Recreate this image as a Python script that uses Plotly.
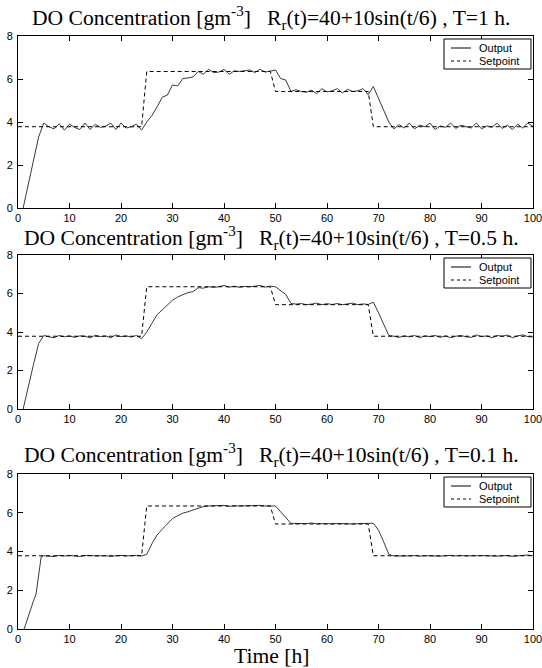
import plotly.graph_objects as go

# ---------------- data ----------------
setpoint_t = [0, 24, 25, 49, 50, 68, 69, 100]
setpoint_y = [3.78, 3.78, 6.35, 6.35, 5.42, 5.42, 3.78, 3.78]

# T = 1 h
out1_t = list(range(1, 101))
out1_y = [0.0, 1.1, 2.2, 3.3, 3.95, 3.78, 3.68, 3.92, 3.62, 3.9,
          3.75, 3.65, 3.95, 3.65, 3.9, 3.75, 3.8, 3.95, 3.65, 3.95,
          3.72, 3.78, 3.9, 3.62, 4.0, 4.3, 4.7, 5.15, 5.25, 5.72,
          5.68, 6.02, 6.05, 6.1, 6.35, 6.22, 6.45, 6.3, 6.32, 6.45,
          6.22, 6.38, 6.35, 6.38, 6.42, 6.3, 6.45, 6.32, 6.38, 6.42,
          6.02, 5.95, 5.42, 5.5, 5.42, 5.38, 5.48, 5.32, 5.55, 5.4,
          5.45, 5.55, 5.35, 5.52, 5.42, 5.45, 5.55, 5.28, 5.65, 5.1,
          4.55, 4.0, 3.68, 3.88, 3.72, 3.95, 3.68, 3.85, 3.78, 3.95,
          3.65, 3.82, 3.75, 3.95, 3.7, 3.85, 3.78, 3.72, 3.95, 3.68,
          3.82, 3.75, 3.95, 3.7, 3.85, 3.65, 3.9, 3.72, 3.95, 3.8]

# T = 0.5 h
out2_t = list(range(1, 101))
out2_y = [0.0, 1.2, 2.3, 3.4, 3.82, 3.75, 3.7, 3.82, 3.75, 3.8,
          3.72, 3.8, 3.78, 3.7, 3.83, 3.76, 3.8, 3.7, 3.85, 3.76,
          3.8, 3.74, 3.82, 3.65, 4.0, 4.45, 4.9, 5.15, 5.4, 5.65,
          5.82, 5.95, 6.05, 6.1, 6.3, 6.28, 6.35, 6.32, 6.35, 6.42,
          6.33, 6.38, 6.32, 6.37, 6.35, 6.38, 6.42, 6.33, 6.38, 6.35,
          6.15, 5.95, 5.48, 5.45, 5.48, 5.42, 5.45, 5.5, 5.42, 5.47,
          5.43, 5.48, 5.42, 5.45, 5.5, 5.42, 5.46, 5.43, 5.55, 5.0,
          4.4, 3.82, 3.78, 3.72, 3.8, 3.75, 3.82, 3.7, 3.8, 3.76,
          3.82, 3.72, 3.8, 3.7, 3.78, 3.82, 3.75, 3.72, 3.85, 3.76,
          3.8, 3.7, 3.82, 3.78, 3.84, 3.7, 3.8, 3.85, 3.76, 3.74]

# T = 0.1 h
out3_t = [1.2, 2, 3, 3.5, 4, 4.5] + list(range(5, 101))
out3_y = [0.0, 0.7, 1.45, 1.8, 2.9, 3.72,
          3.78, 3.76, 3.74, 3.8, 3.77, 3.8, 3.78, 3.74, 3.79, 3.8,
          3.77, 3.79, 3.78, 3.75, 3.78, 3.8, 3.77, 3.78, 3.8, 3.77,
          3.85, 4.4, 4.85, 5.15, 5.45, 5.7, 5.85, 5.98, 6.05, 6.15,
          6.25, 6.32, 6.35, 6.35, 6.36, 6.38, 6.33, 6.36, 6.35, 6.36,
          6.34, 6.35, 6.38, 6.35, 6.36, 6.35, 6.05, 5.75, 5.45, 5.45,
          5.43, 5.44, 5.47, 5.43, 5.44, 5.42, 5.43, 5.45, 5.43, 5.44,
          5.42, 5.44, 5.43, 5.45, 5.46, 5.1, 4.5, 3.85, 3.77, 3.76,
          3.78, 3.77, 3.79, 3.76, 3.78, 3.77, 3.79, 3.76, 3.78, 3.8,
          3.77, 3.79, 3.77, 3.76, 3.78, 3.79, 3.77, 3.78, 3.76, 3.78,
          3.79, 3.75, 3.78, 3.8, 3.82, 3.78]

titles = [
    "DO Concentration [gm<sup>-3</sup>]\u00a0\u00a0\u00a0R<sub>r</sub>(t)=40+10sin(t/6) , T=1 h.",
    "DO Concentration [gm<sup>-3</sup>]\u00a0\u00a0\u00a0R<sub>r</sub>(t)=40+10sin(t/6) , T=0.5 h.",
    "DO Concentration [gm<sup>-3</sup>]\u00a0\u00a0\u00a0R<sub>r</sub>(t)=40+10sin(t/6) , T=0.1 h.",
]
legend_names = ["Output", "Setpoint"]
x_ticks = [0, 10, 20, 30, 40, 50, 60, 70, 80, 90, 100]
y_ticks = [0, 2, 4, 6, 8]

# ---------------- layout helpers ----------------
W, H = 542, 668
def py(p):
    return 1 - p / H
def px(p):
    return p / W

X0, X1 = 18, 533
panels = [(36, 208), (255, 409), (474, 629)]   # (top px, bottom px)
title_px = [18, 238, 455]

tick_font = dict(family="Liberation Sans Narrow, Arial Narrow, Liberation Sans, Arial, sans-serif",
                 size=11, color="black")
serif = "Liberation Serif, Times New Roman, serif"

fig = go.Figure()
outputs = [(out1_t, out1_y), (out2_t, out2_y), (out3_t, out3_y)]
for i, (ot, oy) in enumerate(outputs):
    n = "" if i == 0 else str(i + 1)
    fig.add_trace(go.Scatter(x=ot, y=oy, mode="lines", name=legend_names[0],
                             line=dict(color="#3a3a3a", width=1),
                             xaxis="x" + n, yaxis="y" + n))
    fig.add_trace(go.Scatter(x=setpoint_t, y=setpoint_y, mode="lines", name=legend_names[1],
                             line=dict(color="black", width=1, dash="4px,3px"),
                             xaxis="x" + n, yaxis="y" + n))

layout = dict(width=W, height=H, margin=dict(l=0, r=0, t=0, b=0),
              paper_bgcolor="white", plot_bgcolor="white", showlegend=False)

shapes = []
annotations = []
for i, (top, bot) in enumerate(panels):
    n = "" if i == 0 else str(i + 1)
    common = dict(ticks="inside", ticklen=5, tickcolor="black", showline=True,
                  linecolor="black", linewidth=1, mirror="ticks", showgrid=False,
                  zeroline=False, tickfont=tick_font, automargin=False,
                  ticklabeloverflow="allow")
    layout["xaxis" + n] = dict(domain=[px(X0), px(X1)], range=[0, 100], tickvals=x_ticks,
                               anchor="y" + n, **common)
    layout["yaxis" + n] = dict(domain=[py(bot), py(top)], range=[0, 8], tickvals=y_ticks,
                               anchor="x" + n, ticklabelstandoff=2, **common)

    # legend box drawn by hand (MATLAB-style)
    bx0, bx1 = 444, 531
    by0, by1 = top + 3, top + 33
    shapes.append(dict(type="rect", xref="paper", yref="paper",
                       x0=px(bx0), x1=px(bx1), y0=py(by1), y1=py(by0),
                       line=dict(color="black", width=1), fillcolor="white", layer="above"))
    for k, (dash, name) in enumerate([("solid", legend_names[0]), ("3px,3px", legend_names[1])]):
        ly = by0 + 9 + 13 * k
        shapes.append(dict(type="line", xref="paper", yref="paper",
                           x0=px(bx0 + 7), x1=px(bx0 + 27), y0=py(ly), y1=py(ly),
                           line=dict(color="black", width=1, dash=dash), layer="above"))
        annotations.append(dict(text=name, x=px(bx0 + 33), y=py(ly), xref="paper", yref="paper",
                                xanchor="left", yanchor="middle", showarrow=False,
                                font=tick_font))

for i, t in enumerate(titles):
    annotations.append(dict(text=t, x=0.5, xref="paper", y=py(title_px[i]), yref="paper",
                            xanchor="center", yanchor="middle", showarrow=False,
                            font=dict(family=serif, size=21.6, color="black")))
annotations.append(dict(text="Time [h]", x=0.5, xref="paper", y=py(656), yref="paper",
                        xanchor="center", yanchor="middle", showarrow=False,
                        font=dict(family=serif, size=21.6, color="black")))
layout["shapes"] = shapes
layout["annotations"] = annotations
fig.update_layout(**layout)

fig.write_html("out.html", config={"displayModeBar": False},
               post_script="document.body.style.margin='0';")
